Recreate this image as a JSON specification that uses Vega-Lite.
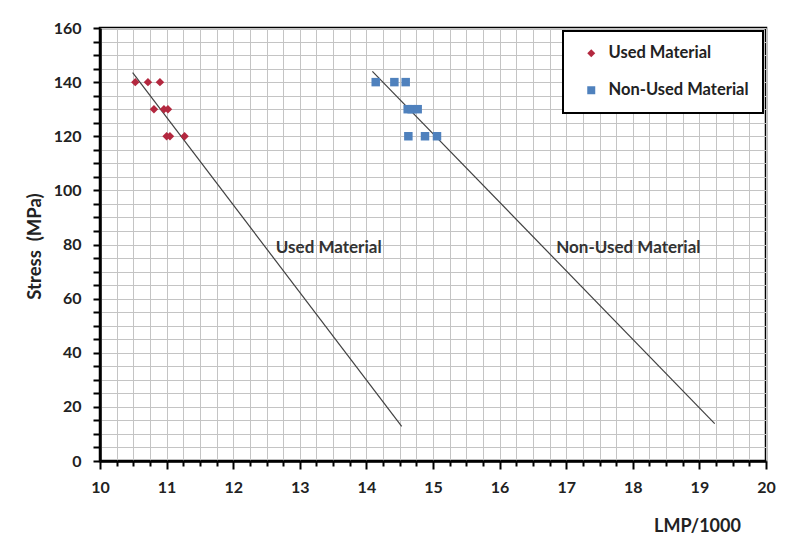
{
  "$schema": "https://vega.github.io/schema/vega-lite/v6.json",
  "width": 666,
  "height": 433,
  "autosize": {"type": "none"},
  "padding": {"left": 100, "top": 28, "right": 22, "bottom": 88},
  "background": "white",
  "config": {
    "view": {"stroke": "black", "strokeWidth": 2.5},
    "font": "Lato",
    "axis": {"grid": true, "gridColor": "#c4c4c4", "gridWidth": 1, "gridOpacity": 1},
    "legend": {"strokeColor": "black", "strokeWidth": 2, "fillColor": "white"}
  },
  "datasets": {
    "points": [
      {"material": "Used Material", "lmp": 10.53, "stress": 140},
      {"material": "Used Material", "lmp": 10.72, "stress": 140},
      {"material": "Used Material", "lmp": 10.9, "stress": 140},
      {"material": "Used Material", "lmp": 10.81, "stress": 130},
      {"material": "Used Material", "lmp": 10.96, "stress": 130},
      {"material": "Used Material", "lmp": 11.02, "stress": 130},
      {"material": "Used Material", "lmp": 11.0, "stress": 120},
      {"material": "Used Material", "lmp": 11.05, "stress": 120},
      {"material": "Used Material", "lmp": 11.27, "stress": 120},
      {"material": "Non-Used Material", "lmp": 14.14, "stress": 140},
      {"material": "Non-Used Material", "lmp": 14.42, "stress": 140},
      {"material": "Non-Used Material", "lmp": 14.59, "stress": 140},
      {"material": "Non-Used Material", "lmp": 14.62, "stress": 130},
      {"material": "Non-Used Material", "lmp": 14.68, "stress": 130},
      {"material": "Non-Used Material", "lmp": 14.77, "stress": 130},
      {"material": "Non-Used Material", "lmp": 14.63, "stress": 120},
      {"material": "Non-Used Material", "lmp": 14.88, "stress": 120},
      {"material": "Non-Used Material", "lmp": 15.06, "stress": 120}
    ],
    "fit": [
      {"material": "Used Material", "lmp": 10.49, "stress": 143.5},
      {"material": "Used Material", "lmp": 14.53, "stress": 12.8},
      {"material": "Non-Used Material", "lmp": 14.09, "stress": 144},
      {"material": "Non-Used Material", "lmp": 19.23, "stress": 13.8}
    ],
    "labels": [
      {"label": "Used Material", "lmp": 12.64, "stress": 78.7},
      {"label": "Non-Used Material", "lmp": 16.85, "stress": 78.7}
    ]
  },
  "encoding": {
    "x": {
      "field": "lmp", "type": "quantitative",
      "scale": {"domain": [10, 20], "nice": false, "zero": false},
      "axis": {
        "values": [10,10.25,10.5,10.75,11,11.25,11.5,11.75,12,12.25,12.5,12.75,13,13.25,13.5,13.75,14,14.25,14.5,14.75,15,15.25,15.5,15.75,16,16.25,16.5,16.75,17,17.25,17.5,17.75,18,18.25,18.5,18.75,19,19.25,19.5,19.75,20],
        "grid": true,
        "domainColor": "black", "domainWidth": 2.5,
        "tickColor": "black", "tickWidth": 2,
        "tickSize": {"condition": {"test": "datum.value % 1 === 0", "value": 8}, "value": 5},
        "labelExpr": "datum.value % 1 === 0 ? format(datum.value, 'd') : ''",
        "labelOverlap": false, "labelFlush": false,
        "labelFontSize": 16, "labelFontWeight": "bold", "labelColor": "#222222", "labelPadding": 10,
        "title": "LMP/1000", "titleFontSize": 18, "titleFontWeight": "bold", "titleColor": "#222222",
        "titleX": 597, "titleY": 65, "titleAlign": "center", "titleBaseline": "middle"
      }
    },
    "y": {
      "field": "stress", "type": "quantitative",
      "scale": {"domain": [0, 160], "nice": false},
      "axis": {
        "values": [0,5,10,15,20,25,30,35,40,45,50,55,60,65,70,75,80,85,90,95,100,105,110,115,120,125,130,135,140,145,150,155,160],
        "grid": true,
        "domainColor": "black", "domainWidth": 2.5,
        "tickColor": "black", "tickWidth": 2, "tickSize": 7,
        "labelExpr": "datum.value % 20 === 0 ? format(datum.value, 'd') : ''",
        "labelOverlap": false, "labelFlush": false,
        "labelFontSize": 16, "labelFontWeight": "bold", "labelColor": "#222222", "labelPadding": 12,
        "title": "Stress\u00a0\u00a0(MPa)", "titleFontSize": 18.5, "titleFontWeight": "bold", "titleColor": "#222222",
        "titleX": -66, "titleY": 218, "titleAngle": -90, "titleAlign": "center", "titleBaseline": "middle"
      }
    }
  },
  "layer": [
    {
      "data": {"name": "fit"},
      "mark": {"type": "line", "color": "#404040", "strokeWidth": 1.2},
      "encoding": {
        "detail": {"field": "material"}
      }
    },
    {
      "data": {"name": "points"},
      "mark": {"type": "point", "filled": true, "opacity": 1, "size": 72},
      "encoding": {
        "shape": {
          "field": "material", "type": "nominal",
          "scale": {"domain": ["Used Material", "Non-Used Material"], "range": ["diamond", "square"]},
          "legend": {
            "orient": "none", "legendX": 463, "legendY": 3, "title": null,
            "padding": 14, "symbolOffset": 6, "labelOffset": 9, "rowPadding": 20,
            "labelFontSize": 16.5, "labelFontWeight": "bold", "labelColor": "#222222",
            "symbolSize": 64, "symbolStrokeWidth": 0
          }
        },
        "color": {
          "field": "material", "type": "nominal",
          "scale": {"domain": ["Used Material", "Non-Used Material"], "range": ["#B3283F", "#4F81BD"]}
        }
      }
    },
    {
      "data": {"name": "labels"},
      "mark": {"type": "text", "align": "left", "baseline": "middle", "fontWeight": "bold", "fontSize": 17, "color": "#333333"},
      "encoding": {
        "text": {"field": "label"}
      }
    }
  ]
}
